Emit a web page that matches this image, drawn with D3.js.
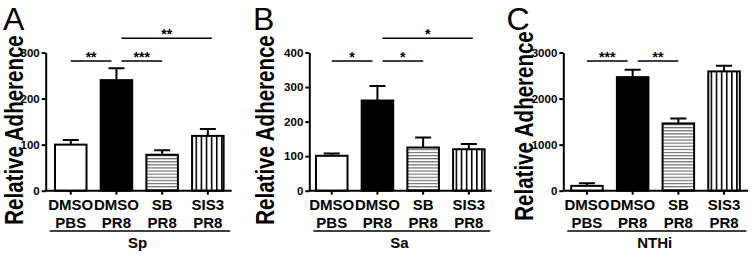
<!DOCTYPE html>
<html>
<head>
<meta charset="utf-8">
<script src="https://cdn.jsdelivr.net/npm/d3@7"></script>
<style>
  body { margin: 0; background: #fff; }
  svg { display: block; font-family: "Liberation Sans", Arial, Helvetica, sans-serif; }
</style>
</head>
<body>
<svg id="chart" width="752" height="255"></svg>
<script>
// bar categories (two-line labels)
const treatment = ["DMSO", "DMSO", "SB", "SIS3"];
const infection = ["PBS", "PR8", "PR8", "PR8"];

// Sp (panel A)
const spMeans = [100, 240, 78, 119];
const spErrors = [10, 26, 10, 15];
const spTicks = [0, 100, 200, 300];
const spSig = [
  { a: 0, b: 1, label: "**", row: 0 },
  { a: 1, b: 2, label: "***", row: 0 },
  { a: 1, b: 3, label: "**", row: 1 }
];

// Sa (panel B)
const saMeans = [101, 261, 125, 120];
const saErrors = [7, 42, 29, 15];
const saTicks = [0, 100, 200, 300, 400];
const saSig = [
  { a: 0, b: 1, label: "*", row: 0 },
  { a: 1, b: 2, label: "*", row: 0 },
  { a: 1, b: 3, label: "*", row: 1 }
];

// NTHi (panel C)
const nthiMeans = [105, 2465, 1460, 2590];
const nthiErrors = [55, 160, 108, 122];
const nthiTicks = [0, 1000, 2000, 3000];
const nthiSig = [
  { a: 0, b: 1, label: "***", row: 0 },
  { a: 1, b: 2, label: "**", row: 0 }
];

const panels = [
  { letter: "A", group: "Sp", means: spMeans, errors: spErrors, ticks: spTicks, sig: spSig,
    axisX: 45.7, bandX: 46.3, axisEnd: 231.7, titleX: 23, titleY: 130, letterX: 3 },
  { letter: "B", group: "Sa", means: saMeans, errors: saErrors, ticks: saTicks, sig: saSig,
    axisX: 309.3, bandX: 307.3, axisEnd: 491.7, titleX: 273.5, titleY: 130, letterX: 253 },
  { letter: "C", group: "NTHi", means: nthiMeans, errors: nthiErrors, ticks: nthiTicks, sig: nthiSig,
    axisX: 563.3, bandX: 562.5, axisEnd: 748, titleX: 533, titleY: 126, letterX: 506.5 }
];

const y0 = 190.7, yTop = 52.5;
const rowY = [61, 38.3];
const fills = ["#fff", "#000", "url(#hstripe)", "url(#vstripe)"];

const svg = d3.select("#chart");

// hatch patterns
const defs = svg.append("defs");
const hp = defs.append("pattern").attr("id", "hstripe")
  .attr("patternUnits", "userSpaceOnUse").attr("width", 6).attr("height", 3.1);
hp.append("rect").attr("width", 6).attr("height", 3.1).attr("fill", "#fff");
hp.append("line").attr("x1", 0).attr("x2", 6).attr("y1", 0.6).attr("y2", 0.6)
  .attr("stroke", "#555").attr("stroke-width", 1);
const vp = defs.append("pattern").attr("id", "vstripe")
  .attr("patternUnits", "userSpaceOnUse").attr("width", 5.1).attr("height", 6);
vp.append("rect").attr("width", 5.1).attr("height", 6).attr("fill", "#fff");
vp.append("line").attr("x1", 2.5).attr("x2", 2.5).attr("y1", 0).attr("y2", 6)
  .attr("stroke", "#000").attr("stroke-width", 1.6);

panels.forEach(p => {
  const g = svg.append("g");
  const idx = d3.range(p.means.length);

  const x = d3.scaleBand()
    .domain(idx)
    .range([p.bandX, p.bandX + 186])
    .paddingInner(0.31)
    .paddingOuter(0.19);

  const y = d3.scaleLinear()
    .domain([0, d3.max(p.ticks)])
    .range([y0, yTop]);

  const cx = i => x(i) + x.bandwidth() / 2;

  // y title (narrowed along its length, drawn first so tick labels stay on top)
  g.append("text")
    .attr("transform", `translate(${p.titleX},${p.titleY}) rotate(-90) scale(0.82,1)`)
    .attr("text-anchor", "middle")
    .style("font-size", "25px")
    .style("font-weight", "bold")
    .text("Relative Adherence");

  // bars
  g.selectAll(".bar")
    .data(idx)
    .enter()
    .append("rect")
    .attr("class", "bar")
    .attr("x", i => x(i))
    .attr("y", i => y(p.means[i]))
    .attr("width", x.bandwidth())
    .attr("height", i => y0 - y(p.means[i]))
    .attr("fill", i => fills[i])
    .attr("stroke", "#000")
    .attr("stroke-width", 2);

  // error bars (upper only)
  g.selectAll(".err")
    .data(idx)
    .enter()
    .append("path")
    .attr("class", "err")
    .attr("d", i => {
      const top = y(p.means[i] + p.errors[i]);
      return `M${cx(i)},${y(p.means[i])}V${top}M${cx(i) - 8},${top}H${cx(i) + 8}`;
    })
    .attr("fill", "none")
    .attr("stroke", "#000")
    .attr("stroke-width", 2);

  // y axis (plain integers, no thousands separator)
  const yAxis = g.append("g")
    .attr("transform", `translate(${p.axisX},0)`)
    .call(d3.axisLeft(y).tickValues(p.ticks).tickFormat(d3.format("d"))
      .tickSize(4).tickSizeOuter(0).tickPadding(2));
  yAxis.selectAll("path, line").attr("stroke", "#000").attr("stroke-width", 2);
  yAxis.selectAll("text")
    .attr("fill", "#000")
    .style("font-size", "11.5px")
    .style("font-weight", "bold")
    .style("font-family", "'Liberation Sans', Arial, sans-serif");

  // x axis
  const xAxis = g.append("g")
    .attr("transform", `translate(0,${y0})`)
    .call(d3.axisBottom(x).tickSize(4).tickSizeOuter(0).tickFormat(""));
  xAxis.select(".domain").attr("d", `M${p.axisX - 1},0H${p.axisEnd}`);
  xAxis.selectAll("path, line").attr("stroke", "#000").attr("stroke-width", 2);

  // two-line category labels
  const lab = g.selectAll(".xlab")
    .data(idx)
    .enter()
    .append("text")
    .attr("class", "xlab")
    .attr("text-anchor", "middle")
    .style("font-size", "15px")
    .style("font-weight", "bold");
  lab.append("tspan").attr("x", i => cx(i)).attr("y", 210).text(i => treatment[i]);
  lab.append("tspan").attr("x", i => cx(i)).attr("y", 228).text(i => infection[i]);

  // group underline and label
  g.append("line")
    .attr("x1", p.axisX + 4).attr("x2", p.axisEnd - 1.5)
    .attr("y1", 231).attr("y2", 231)
    .attr("stroke", "#000").attr("stroke-width", 1.5);
  g.append("text")
    .attr("x", (p.axisX + p.axisEnd) / 2 - 1)
    .attr("y", 248)
    .attr("text-anchor", "middle")
    .style("font-size", "15px")
    .style("font-weight", "bold")
    .text(p.group);

  // significance lines
  p.sig.forEach(s => {
    const x1 = cx(s.a) + (s.a > 0 ? 5 : 0);
    const x2 = cx(s.b) + (s.b === 1 ? -5 : s.b === 3 ? 4 : 0);
    const ly = rowY[s.row];
    g.append("line")
      .attr("x1", x1).attr("x2", x2)
      .attr("y1", ly).attr("y2", ly)
      .attr("stroke", "#000").attr("stroke-width", 1.5);
    g.append("text")
      .attr("x", (x1 + x2) / 2)
      .attr("y", ly + 0.5)
      .attr("text-anchor", "middle")
      .style("font-size", "14px")
      .style("font-weight", "bold")
      .text(s.label);
  });

  // panel letter
  g.append("text")
    .attr("x", p.letterX)
    .attr("y", 29.5)
    .style("font-size", "32px")
    .text(p.letter);
});
</script>
</body>
</html>
